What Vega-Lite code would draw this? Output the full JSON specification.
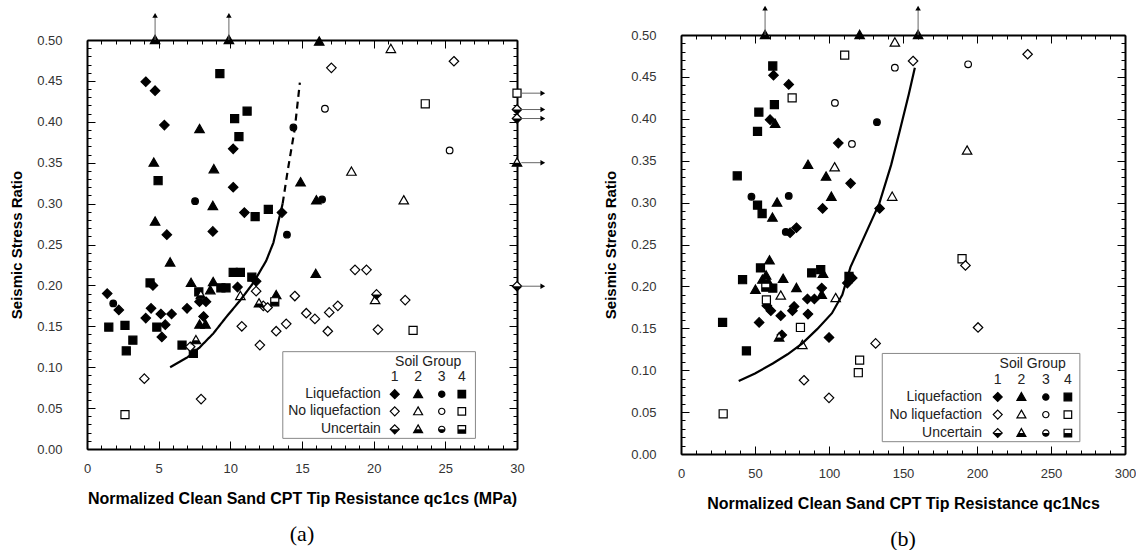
{
"$schema":"https://vega.github.io/schema/vega-lite/v6.json",
"padding":{"left":9,"top":5,"right":0,"bottom":0},
"background":"white",
"config":{"view":{"stroke":null},"font":"Liberation Sans","axis":{"grid":false}},
"datasets":{
"ptsA":[
{"q":4.75,"csr":0.5,"group":"2","outcome":"L"},{"q":9.9,"csr":0.5,"group":"2","outcome":"L"},{"q":16.2,"csr":0.498,"group":"2","outcome":"L"},
{"q":4.1,"csr":0.449,"group":"1","outcome":"L"},{"q":4.75,"csr":0.438,"group":"1","outcome":"L"},{"q":9.27,"csr":0.459,"group":"4","outcome":"L"},
{"q":11.17,"csr":0.413,"group":"4","outcome":"L"},{"q":10.3,"csr":0.404,"group":"4","outcome":"L"},{"q":5.4,"csr":0.396,"group":"1","outcome":"L"},
{"q":7.85,"csr":0.391,"group":"2","outcome":"L"},{"q":10.6,"csr":0.382,"group":"4","outcome":"L"},{"q":14.4,"csr":0.393,"group":"3","outcome":"L"},
{"q":10.2,"csr":0.367,"group":"1","outcome":"L"},{"q":4.66,"csr":0.35,"group":"2","outcome":"L"},{"q":8.85,"csr":0.342,"group":"2","outcome":"L"},
{"q":4.96,"csr":0.328,"group":"4","outcome":"L"},{"q":10.2,"csr":0.32,"group":"1","outcome":"L"},{"q":7.54,"csr":0.303,"group":"3","outcome":"L"},
{"q":8.78,"csr":0.297,"group":"2","outcome":"L"},{"q":10.98,"csr":0.289,"group":"1","outcome":"L"},{"q":11.73,"csr":0.284,"group":"4","outcome":"L"},
{"q":12.65,"csr":0.293,"group":"4","outcome":"L"},{"q":13.6,"csr":0.289,"group":"1","outcome":"L"},{"q":4.75,"csr":0.278,"group":"2","outcome":"L"},
{"q":13.95,"csr":0.262,"group":"3","outcome":"L"},{"q":5.57,"csr":0.262,"group":"1","outcome":"L"},{"q":8.78,"csr":0.266,"group":"1","outcome":"L"},
{"q":5.8,"csr":0.228,"group":"2","outcome":"L"},{"q":14.9,"csr":0.326,"group":"2","outcome":"L"},{"q":16.0,"csr":0.304,"group":"2","outcome":"L"},
{"q":16.4,"csr":0.305,"group":"3","outcome":"L"},{"q":1.41,"csr":0.19,"group":"1","outcome":"L"},{"q":1.83,"csr":0.178,"group":"3","outcome":"L"},
{"q":2.22,"csr":0.17,"group":"1","outcome":"L"},{"q":1.52,"csr":0.149,"group":"4","outcome":"L"},{"q":2.65,"csr":0.151,"group":"4","outcome":"L"},
{"q":3.2,"csr":0.133,"group":"4","outcome":"L"},{"q":2.74,"csr":0.12,"group":"4","outcome":"L"},{"q":4.4,"csr":0.203,"group":"4","outcome":"L"},
{"q":4.6,"csr":0.2,"group":"1","outcome":"L"},{"q":4.1,"csr":0.16,"group":"1","outcome":"L"},{"q":4.47,"csr":0.172,"group":"1","outcome":"L"},
{"q":4.87,"csr":0.149,"group":"4","outcome":"L"},{"q":5.15,"csr":0.165,"group":"1","outcome":"L"},{"q":5.46,"csr":0.152,"group":"1","outcome":"L"},
{"q":5.22,"csr":0.137,"group":"1","outcome":"L"},{"q":5.9,"csr":0.165,"group":"1","outcome":"L"},{"q":6.98,"csr":0.172,"group":"1","outcome":"L"},
{"q":6.63,"csr":0.127,"group":"4","outcome":"L"},{"q":7.42,"csr":0.117,"group":"4","outcome":"L"},{"q":7.26,"csr":0.203,"group":"2","outcome":"L"},
{"q":7.8,"csr":0.192,"group":"4","outcome":"L"},{"q":7.85,"csr":0.18,"group":"1","outcome":"L"},{"q":8.3,"csr":0.18,"group":"1","outcome":"L"},
{"q":8.13,"csr":0.162,"group":"1","outcome":"L"},{"q":7.85,"csr":0.152,"group":"2","outcome":"L"},{"q":8.27,"csr":0.152,"group":"2","outcome":"L"},
{"q":8.8,"csr":0.204,"group":"2","outcome":"L"},{"q":8.6,"csr":0.194,"group":"2","outcome":"L"},{"q":9.34,"csr":0.197,"group":"4","outcome":"L"},
{"q":9.7,"csr":0.197,"group":"4","outcome":"L"},{"q":10.2,"csr":0.216,"group":"4","outcome":"L"},{"q":10.7,"csr":0.216,"group":"4","outcome":"L"},
{"q":10.5,"csr":0.198,"group":"1","outcome":"L"},{"q":11.5,"csr":0.21,"group":"4","outcome":"L"},{"q":11.8,"csr":0.205,"group":"1","outcome":"L"},
{"q":13.2,"csr":0.188,"group":"2","outcome":"L"},{"q":15.96,"csr":0.214,"group":"2","outcome":"L"},
{"q":21.2,"csr":0.489,"group":"2","outcome":"N"},{"q":17.05,"csr":0.466,"group":"1","outcome":"N"},{"q":25.6,"csr":0.474,"group":"1","outcome":"N"},
{"q":16.6,"csr":0.416,"group":"3","outcome":"N"},{"q":23.6,"csr":0.422,"group":"4","outcome":"N"},{"q":25.3,"csr":0.365,"group":"3","outcome":"N"},
{"q":18.45,"csr":0.339,"group":"2","outcome":"N"},{"q":22.1,"csr":0.304,"group":"2","outcome":"N"},{"q":30,"csr":0.435,"group":"4","outcome":"N"},
{"q":4.0,"csr":0.086,"group":"1","outcome":"N"},{"q":2.65,"csr":0.042,"group":"4","outcome":"N"},{"q":7.96,"csr":0.061,"group":"1","outcome":"N"},
{"q":7.2,"csr":0.125,"group":"1","outcome":"N"},{"q":10.7,"csr":0.187,"group":"2","outcome":"N"},{"q":11.8,"csr":0.193,"group":"1","outcome":"N"},
{"q":10.8,"csr":0.15,"group":"1","outcome":"N"},{"q":12.06,"csr":0.127,"group":"1","outcome":"N"},{"q":12.3,"csr":0.175,"group":"1","outcome":"N"},
{"q":12.6,"csr":0.173,"group":"1","outcome":"N"},{"q":13.2,"csr":0.144,"group":"1","outcome":"N"},{"q":13.9,"csr":0.153,"group":"1","outcome":"N"},
{"q":14.5,"csr":0.187,"group":"1","outcome":"N"},{"q":18.7,"csr":0.219,"group":"1","outcome":"N"},{"q":19.5,"csr":0.219,"group":"1","outcome":"N"},
{"q":20.1,"csr":0.182,"group":"2","outcome":"N"},{"q":22.2,"csr":0.182,"group":"1","outcome":"N"},{"q":15.3,"csr":0.166,"group":"1","outcome":"N"},
{"q":15.9,"csr":0.159,"group":"1","outcome":"N"},{"q":16.9,"csr":0.167,"group":"1","outcome":"N"},{"q":17.5,"csr":0.175,"group":"1","outcome":"N"},
{"q":16.8,"csr":0.144,"group":"1","outcome":"N"},{"q":20.3,"csr":0.146,"group":"1","outcome":"N"},{"q":22.75,"csr":0.145,"group":"4","outcome":"N"},
{"q":30,"csr":0.415,"group":"1","outcome":"U"},{"q":30,"csr":0.404,"group":"1","outcome":"U"},{"q":30,"csr":0.35,"group":"2","outcome":"U"},
{"q":30,"csr":0.199,"group":"1","outcome":"U"},{"q":7.6,"csr":0.133,"group":"2","outcome":"U"},{"q":12.0,"csr":0.178,"group":"2","outcome":"U"},
{"q":13.1,"csr":0.18,"group":"4","outcome":"U"},{"q":20.2,"csr":0.189,"group":"1","outcome":"U"},{"q":7.94,"csr":0.188,"group":"2","outcome":"U"}
],
"curveA":[
{"q":5.8,"csr":0.1,"style":"solid"},{"q":7.0,"csr":0.112,"style":"solid"},{"q":7.85,"csr":0.124,"style":"solid"},{"q":8.8,"csr":0.141,"style":"solid"},
{"q":9.7,"csr":0.161,"style":"solid"},{"q":10.7,"csr":0.182,"style":"solid"},{"q":11.6,"csr":0.203,"style":"solid"},{"q":12.5,"csr":0.23,"style":"solid"},
{"q":13.0,"csr":0.252,"style":"solid"},{"q":13.65,"csr":0.3,"style":"solid"},
{"q":13.65,"csr":0.3,"style":"dashed"},{"q":14.0,"csr":0.34,"style":"dashed"},{"q":14.5,"csr":0.392,"style":"dashed"},{"q":14.85,"csr":0.448,"style":"dashed"}
],
"arrowsA":[
{"q":4.75,"csr":0.5,"q2":4.75,"csr2":0.53,"dir":"up"},{"q":9.9,"csr":0.5,"q2":9.9,"csr2":0.53,"dir":"up"},
{"q":30.3,"csr":0.435,"q2":31.8,"csr2":0.435,"dir":"right"},{"q":30.3,"csr":0.415,"q2":31.8,"csr2":0.415,"dir":"right"},
{"q":30.3,"csr":0.404,"q2":31.8,"csr2":0.404,"dir":"right"},{"q":30.3,"csr":0.35,"q2":31.8,"csr2":0.35,"dir":"right"},
{"q":30.3,"csr":0.199,"q2":31.8,"csr2":0.199,"dir":"right"}
],
"legBoxA":[{"q":13.66,"q2":27.1,"csr":0.013,"csr2":0.119}],
"legTextA":[
{"q":23.8,"csr":0.106,"label":"Soil Group","kind":"head"},
{"q":21.47,"csr":0.088,"label":"1","kind":"head"},{"q":23.1,"csr":0.088,"label":"2","kind":"head"},
{"q":24.75,"csr":0.088,"label":"3","kind":"head"},{"q":26.15,"csr":0.088,"label":"4","kind":"head"},
{"q":20.5,"csr":0.067,"label":"Liquefaction","kind":"row"},{"q":20.5,"csr":0.046,"label":"No liquefaction","kind":"row"},
{"q":20.5,"csr":0.024,"label":"Uncertain","kind":"row"}
],
"legSymA":[
{"q":21.47,"csr":0.067,"group":"1","outcome":"L"},{"q":23.1,"csr":0.067,"group":"2","outcome":"L"},{"q":24.75,"csr":0.067,"group":"3","outcome":"L"},{"q":26.15,"csr":0.067,"group":"4","outcome":"L"},
{"q":21.47,"csr":0.046,"group":"1","outcome":"N"},{"q":23.1,"csr":0.046,"group":"2","outcome":"N"},{"q":24.75,"csr":0.046,"group":"3","outcome":"N"},{"q":26.15,"csr":0.046,"group":"4","outcome":"N"},
{"q":21.47,"csr":0.024,"group":"1","outcome":"U"},{"q":23.1,"csr":0.024,"group":"2","outcome":"U"},{"q":24.75,"csr":0.024,"group":"3","outcome":"U"},{"q":26.15,"csr":0.024,"group":"4","outcome":"U"}
],
"ptsB":[
{"q":56.8,"csr":0.5,"group":"2","outcome":"L"},{"q":120.7,"csr":0.5,"group":"2","outcome":"L"},{"q":160.2,"csr":0.5,"group":"2","outcome":"L"},
{"q":62.0,"csr":0.463,"group":"4","outcome":"L"},{"q":62.5,"csr":0.452,"group":"1","outcome":"L"},{"q":72.8,"csr":0.441,"group":"1","outcome":"L"},
{"q":63.1,"csr":0.417,"group":"4","outcome":"L"},{"q":52.6,"csr":0.408,"group":"4","outcome":"L"},{"q":60.2,"csr":0.399,"group":"1","outcome":"L"},
{"q":63.6,"csr":0.394,"group":"2","outcome":"L"},{"q":51.7,"csr":0.385,"group":"4","outcome":"L"},{"q":106.3,"csr":0.371,"group":"1","outcome":"L"},
{"q":132.4,"csr":0.396,"group":"3","outcome":"L"},{"q":85.8,"csr":0.345,"group":"2","outcome":"L"},{"q":98.0,"csr":0.331,"group":"2","outcome":"L"},
{"q":38.0,"csr":0.332,"group":"4","outcome":"L"},{"q":114.6,"csr":0.323,"group":"1","outcome":"L"},{"q":134.2,"csr":0.293,"group":"1","outcome":"L"},
{"q":47.6,"csr":0.307,"group":"3","outcome":"L"},{"q":72.8,"csr":0.308,"group":"3","outcome":"L"},{"q":101.6,"csr":0.307,"group":"2","outcome":"L"},
{"q":51.7,"csr":0.297,"group":"4","outcome":"L"},{"q":64.9,"csr":0.3,"group":"2","outcome":"L"},{"q":54.8,"csr":0.287,"group":"4","outcome":"L"},
{"q":95.7,"csr":0.293,"group":"1","outcome":"L"},{"q":61.8,"csr":0.282,"group":"2","outcome":"L"},{"q":70.8,"csr":0.265,"group":"3","outcome":"L"},
{"q":73.7,"csr":0.264,"group":"1","outcome":"L"},{"q":78.0,"csr":0.27,"group":"1","outcome":"L"},{"q":59.8,"csr":0.231,"group":"2","outcome":"L"},
{"q":53.7,"csr":0.222,"group":"4","outcome":"L"},{"q":88.3,"csr":0.216,"group":"4","outcome":"L"},{"q":94.4,"csr":0.22,"group":"4","outcome":"L"},
{"q":41.6,"csr":0.208,"group":"4","outcome":"L"},{"q":55.0,"csr":0.208,"group":"2","outcome":"L"},{"q":57.5,"csr":0.213,"group":"2","outcome":"L"},
{"q":59.0,"csr":0.205,"group":"2","outcome":"L"},{"q":69.0,"csr":0.209,"group":"2","outcome":"L"},{"q":96.0,"csr":0.215,"group":"2","outcome":"L"},
{"q":50.3,"csr":0.196,"group":"2","outcome":"L"},{"q":62.0,"csr":0.198,"group":"4","outcome":"L"},{"q":78.0,"csr":0.198,"group":"2","outcome":"L"},
{"q":95.1,"csr":0.198,"group":"1","outcome":"L"},{"q":95.1,"csr":0.19,"group":"2","outcome":"L"},{"q":58.0,"csr":0.177,"group":"1","outcome":"L"},
{"q":60.7,"csr":0.171,"group":"1","outcome":"L"},{"q":85.4,"csr":0.185,"group":"1","outcome":"L"},{"q":90.1,"csr":0.185,"group":"1","outcome":"L"},
{"q":76.4,"csr":0.176,"group":"1","outcome":"L"},{"q":75.3,"csr":0.171,"group":"1","outcome":"L"},{"q":67.4,"csr":0.165,"group":"1","outcome":"L"},
{"q":85.8,"csr":0.167,"group":"1","outcome":"L"},{"q":52.8,"csr":0.157,"group":"1","outcome":"L"},{"q":28.1,"csr":0.157,"group":"4","outcome":"L"},
{"q":68.1,"csr":0.142,"group":"1","outcome":"L"},{"q":100.0,"csr":0.139,"group":"1","outcome":"L"},{"q":112.4,"csr":0.204,"group":"1","outcome":"L"},
{"q":115.7,"csr":0.21,"group":"1","outcome":"L"},{"q":113.5,"csr":0.212,"group":"4","outcome":"L"},{"q":44.2,"csr":0.123,"group":"4","outcome":"L"},
{"q":144.5,"csr":0.491,"group":"2","outcome":"N"},{"q":110.6,"csr":0.476,"group":"4","outcome":"N"},{"q":75.1,"csr":0.425,"group":"4","outcome":"N"},
{"q":104.0,"csr":0.419,"group":"3","outcome":"N"},{"q":115.5,"csr":0.37,"group":"3","outcome":"N"},{"q":156.8,"csr":0.469,"group":"1","outcome":"N"},
{"q":144.5,"csr":0.461,"group":"3","outcome":"N"},{"q":194.0,"csr":0.465,"group":"3","outcome":"N"},{"q":234.2,"csr":0.477,"group":"1","outcome":"N"},
{"q":103.8,"csr":0.342,"group":"2","outcome":"N"},{"q":193.3,"csr":0.362,"group":"2","outcome":"N"},{"q":142.7,"csr":0.307,"group":"2","outcome":"N"},
{"q":67.4,"csr":0.189,"group":"2","outcome":"N"},{"q":57.7,"csr":0.184,"group":"4","outcome":"N"},{"q":80.7,"csr":0.151,"group":"4","outcome":"N"},
{"q":82.0,"csr":0.13,"group":"2","outcome":"N"},{"q":104.5,"csr":0.186,"group":"2","outcome":"N"},{"q":83.1,"csr":0.088,"group":"1","outcome":"N"},
{"q":100.0,"csr":0.067,"group":"1","outcome":"N"},{"q":28.5,"csr":0.048,"group":"4","outcome":"N"},{"q":120.7,"csr":0.112,"group":"4","outcome":"N"},
{"q":119.8,"csr":0.097,"group":"4","outcome":"N"},{"q":189.9,"csr":0.233,"group":"4","outcome":"N"},{"q":192.2,"csr":0.225,"group":"1","outcome":"N"},
{"q":200.7,"csr":0.151,"group":"1","outcome":"N"},{"q":131.5,"csr":0.132,"group":"1","outcome":"N"},
{"q":57.3,"csr":0.199,"group":"4","outcome":"U"},{"q":66.3,"csr":0.139,"group":"2","outcome":"U"}
],
"curveB":[
{"q":39,"csr":0.087},{"q":50,"csr":0.096},{"q":62,"csr":0.108},{"q":72,"csr":0.119},{"q":82,"csr":0.132},{"q":92,"csr":0.149},
{"q":102,"csr":0.168},{"q":109,"csr":0.19},{"q":114.5,"csr":0.223},{"q":124,"csr":0.26},{"q":134,"csr":0.299},{"q":142,"csr":0.345},
{"q":148,"csr":0.387},{"q":154,"csr":0.43},{"q":158,"csr":0.461}
],
"arrowsB":[
{"q":56.8,"csr":0.5,"q2":56.8,"csr2":0.532,"dir":"up"},{"q":160.2,"csr":0.5,"q2":160.2,"csr2":0.532,"dir":"up"}
],
"legBoxB":[{"q":136,"q2":269.5,"csr":0.0147,"csr2":0.12}],
"legTextB":[
{"q":237.6,"csr":0.107,"label":"Soil Group","kind":"head"},
{"q":214,"csr":0.088,"label":"1","kind":"head"},{"q":230,"csr":0.088,"label":"2","kind":"head"},
{"q":246.5,"csr":0.088,"label":"3","kind":"head"},{"q":261.4,"csr":0.088,"label":"4","kind":"head"},
{"q":203.4,"csr":0.068,"label":"Liquefaction","kind":"row"},{"q":203.4,"csr":0.047,"label":"No liquefaction","kind":"row"},
{"q":203.4,"csr":0.025,"label":"Uncertain","kind":"row"}
],
"legSymB":[
{"q":214,"csr":0.068,"group":"1","outcome":"L"},{"q":230,"csr":0.068,"group":"2","outcome":"L"},{"q":246.5,"csr":0.068,"group":"3","outcome":"L"},{"q":261.4,"csr":0.068,"group":"4","outcome":"L"},
{"q":214,"csr":0.047,"group":"1","outcome":"N"},{"q":230,"csr":0.047,"group":"2","outcome":"N"},{"q":246.5,"csr":0.047,"group":"3","outcome":"N"},{"q":261.4,"csr":0.047,"group":"4","outcome":"N"},
{"q":214,"csr":0.025,"group":"1","outcome":"U"},{"q":230,"csr":0.025,"group":"2","outcome":"U"},{"q":246.5,"csr":0.025,"group":"3","outcome":"U"},{"q":261.4,"csr":0.025,"group":"4","outcome":"U"}
]
},
"hconcat":[
{
"width":430,"height":409,
"title":{"text":"(a)","orient":"bottom","font":"Liberation Serif","fontSize":22,"fontWeight":"normal","color":"black","offset":18},
"resolve":{"scale":{"shape":"independent","fill":"independent","strokeDash":"independent"},"axis":{"x":"independent","y":"independent"}},
"layer":[
{"data":{"name":"ptsA"},
 "mark":{"type":"point","filled":true,"stroke":"black","strokeWidth":1.2,"size":90,"opacity":1},
 "encoding":{
  "x":{"field":"q","type":"quantitative","scale":{"domain":[0,30],"nice":false,"zero":false},
   "axis":{"orient":"bottom","values":[0,1,2,3,4,5,6,7,8,9,10,11,12,13,14,15,16,17,18,19,20,21,22,23,24,25,26,27,28,29,30],
    "labelExpr":"datum.value % 5 === 0 ? datum.label : ''",
    "tickSize":{"condition":{"test":"datum.value % 5 === 0","value":-8},"value":-4},
    "labelPadding":21,"labelFontSize":13,"labelColor":"#333","labelFlush":false,"labelOverlap":false,
    "domainColor":"black","domainWidth":2,"tickColor":"black","tickWidth":1,
    "title":"Normalized Clean Sand CPT Tip Resistance qc1cs (MPa)","titleFontSize":16,"titleFontWeight":"bold","titleColor":"black","titlePadding":11}},
  "y":{"field":"csr","type":"quantitative","scale":{"domain":[0,0.5],"nice":false},
   "axis":{"orient":"left","values":[0,0.01,0.02,0.03,0.04,0.05,0.06,0.07,0.08,0.09,0.1,0.11,0.12,0.13,0.14,0.15,0.16,0.17,0.18,0.19,0.2,0.21,0.22,0.23,0.24,0.25,0.26,0.27,0.28,0.29,0.3,0.31,0.32,0.33,0.34,0.35,0.36,0.37,0.38,0.39,0.4,0.41,0.42,0.43,0.44,0.45,0.46,0.47,0.48,0.49,0.5],
    "labelExpr":"round(datum.value*100) % 5 === 0 ? format(datum.value, '.2f') : ''",
    "tickSize":{"condition":{"test":"round(datum.value*100) % 5 === 0","value":-8},"value":-4},
    "labelPadding":33,"labelFontSize":13,"labelColor":"#333","labelFlush":false,"labelOverlap":false,
    "domainColor":"black","domainWidth":2,"tickColor":"black","tickWidth":1,
    "title":"Seismic Stress Ratio","titleFontSize":15,"titleFontWeight":"bold","titleColor":"black","titlePadding":12}},
  "shape":{"field":"group","type":"nominal","scale":{"domain":["1","2","3","4"],"range":["M0,-1L1,0L0,1L-1,0Z","M0,-1L1,0.75L-1,0.75Z","M0.7,0A0.7,0.7,0,1,1,-0.7,0A0.7,0.7,0,1,1,0.7,0Z","M-0.85,-0.85L0.85,-0.85L0.85,0.85L-0.85,0.85Z"]},"legend":null},
  "fill":{"field":"outcome","type":"nominal","scale":{"domain":["L","N","U"],"range":["black","white","white"]},"legend":null}
 }},
{"data":{"name":"ptsA"},
 "transform":[{"filter":"datum.outcome === 'U'"}],
 "mark":{"type":"point","filled":true,"fill":"black","strokeWidth":0,"size":90,"opacity":1},
 "encoding":{
  "x":{"field":"q","type":"quantitative","scale":{"domain":[0,30],"nice":false,"zero":false},"axis":null},
  "y":{"field":"csr","type":"quantitative","scale":{"domain":[0,0.5],"nice":false},"axis":null},
  "shape":{"field":"group","type":"nominal","scale":{"domain":["1","2","3","4"],"range":["M-1,0L1,0L0,1Z","M-0.571,0L0.571,0L1,0.75L-1,0.75Z","M-0.7,0A0.7,0.7,0,0,0,0.7,0Z","M-0.85,0L0.85,0L0.85,0.85L-0.85,0.85Z"]},"legend":null}
 }},
{"data":{"name":"curveA"},
 "mark":{"type":"line","color":"black","strokeWidth":2.2},
 "encoding":{
  "x":{"field":"q","type":"quantitative","scale":{"domain":[0,30],"nice":false,"zero":false},
   "axis":{"orient":"top","values":[0,1,2,3,4,5,6,7,8,9,10,11,12,13,14,15,16,17,18,19,20,21,22,23,24,25,26,27,28,29,30],"labels":false,
    "tickSize":{"condition":{"test":"datum.value % 5 === 0","value":-8},"value":-4},
    "domainColor":"black","domainWidth":2,"tickColor":"black","tickWidth":1,"title":null}},
  "y":{"field":"csr","type":"quantitative","scale":{"domain":[0,0.5],"nice":false},
   "axis":{"orient":"right","values":[0,0.01,0.02,0.03,0.04,0.05,0.06,0.07,0.08,0.09,0.1,0.11,0.12,0.13,0.14,0.15,0.16,0.17,0.18,0.19,0.2,0.21,0.22,0.23,0.24,0.25,0.26,0.27,0.28,0.29,0.3,0.31,0.32,0.33,0.34,0.35,0.36,0.37,0.38,0.39,0.4,0.41,0.42,0.43,0.44,0.45,0.46,0.47,0.48,0.49,0.5],"labels":false,
    "tickSize":{"condition":{"test":"round(datum.value*100) % 5 === 0","value":-8},"value":-4},
    "domainColor":"black","domainWidth":2,"tickColor":"black","tickWidth":1,"title":null}},
  "strokeDash":{"field":"style","type":"nominal","scale":{"domain":["solid","dashed"],"range":[[1,0],[7,5]]},"legend":null}
 }},
{"data":{"name":"legBoxA"},
 "mark":{"type":"rect","fill":"white","stroke":"#888","strokeWidth":1},
 "encoding":{
  "x":{"field":"q","type":"quantitative","scale":{"domain":[0,30],"nice":false,"zero":false},"axis":null},
  "x2":{"field":"q2"},
  "y":{"field":"csr","type":"quantitative","scale":{"domain":[0,0.5],"nice":false},"axis":null},
  "y2":{"field":"csr2"}
 }},
{"data":{"name":"legTextA"},
 "transform":[{"filter":"datum.kind === 'head'"}],
 "mark":{"type":"text","fontSize":14,"color":"#222","align":"center","baseline":"middle"},
 "encoding":{
  "x":{"field":"q","type":"quantitative","scale":{"domain":[0,30],"nice":false,"zero":false},"axis":null},
  "y":{"field":"csr","type":"quantitative","scale":{"domain":[0,0.5],"nice":false},"axis":null},
  "text":{"field":"label"}
 }},
{"data":{"name":"legTextA"},
 "transform":[{"filter":"datum.kind === 'row'"}],
 "mark":{"type":"text","fontSize":14,"color":"#222","align":"right","baseline":"middle"},
 "encoding":{
  "x":{"field":"q","type":"quantitative","scale":{"domain":[0,30],"nice":false,"zero":false},"axis":null},
  "y":{"field":"csr","type":"quantitative","scale":{"domain":[0,0.5],"nice":false},"axis":null},
  "text":{"field":"label"}
 }},
{"data":{"name":"legSymA"},
 "mark":{"type":"point","filled":true,"stroke":"black","strokeWidth":1.2,"size":80,"opacity":1},
 "encoding":{
  "x":{"field":"q","type":"quantitative","scale":{"domain":[0,30],"nice":false,"zero":false},"axis":null},
  "y":{"field":"csr","type":"quantitative","scale":{"domain":[0,0.5],"nice":false},"axis":null},
  "shape":{"field":"group","type":"nominal","scale":{"domain":["1","2","3","4"],"range":["M0,-1L1,0L0,1L-1,0Z","M0,-1L1,0.75L-1,0.75Z","M0.7,0A0.7,0.7,0,1,1,-0.7,0A0.7,0.7,0,1,1,0.7,0Z","M-0.85,-0.85L0.85,-0.85L0.85,0.85L-0.85,0.85Z"]},"legend":null},
  "fill":{"field":"outcome","type":"nominal","scale":{"domain":["L","N","U"],"range":["black","white","white"]},"legend":null}
 }},
{"data":{"name":"legSymA"},
 "transform":[{"filter":"datum.outcome === 'U'"}],
 "mark":{"type":"point","filled":true,"fill":"black","strokeWidth":0,"size":80,"opacity":1},
 "encoding":{
  "x":{"field":"q","type":"quantitative","scale":{"domain":[0,30],"nice":false,"zero":false},"axis":null},
  "y":{"field":"csr","type":"quantitative","scale":{"domain":[0,0.5],"nice":false},"axis":null},
  "shape":{"field":"group","type":"nominal","scale":{"domain":["1","2","3","4"],"range":["M-1,0L1,0L0,1Z","M-0.571,0L0.571,0L1,0.75L-1,0.75Z","M-0.7,0A0.7,0.7,0,0,0,0.7,0Z","M-0.85,0L0.85,0L0.85,0.85L-0.85,0.85Z"]},"legend":null}
 }},
{"data":{"name":"arrowsA"},
 "mark":{"type":"rule","color":"#666","strokeWidth":1},
 "encoding":{
  "x":{"field":"q","type":"quantitative","scale":{"domain":[0,30],"nice":false,"zero":false},"axis":null},
  "x2":{"field":"q2"},
  "y":{"field":"csr","type":"quantitative","scale":{"domain":[0,0.5],"nice":false},"axis":null},
  "y2":{"field":"csr2"}
 }},
{"data":{"name":"arrowsA"},
 "transform":[{"filter":"datum.dir === 'up'"}],
 "mark":{"type":"point","shape":"triangle-up","filled":true,"color":"black","size":30,"opacity":1},
 "encoding":{
  "x":{"field":"q2","type":"quantitative","scale":{"domain":[0,30],"nice":false,"zero":false},"axis":null},
  "y":{"field":"csr2","type":"quantitative","scale":{"domain":[0,0.5],"nice":false},"axis":null}
 }},
{"data":{"name":"arrowsA"},
 "transform":[{"filter":"datum.dir === 'right'"}],
 "mark":{"type":"point","shape":"triangle-right","filled":true,"color":"black","size":30,"opacity":1},
 "encoding":{
  "x":{"field":"q2","type":"quantitative","scale":{"domain":[0,30],"nice":false,"zero":false},"axis":null},
  "y":{"field":"csr2","type":"quantitative","scale":{"domain":[0,0.5],"nice":false},"axis":null}
 }}
]
},
{
"width":444,"height":419,
"title":{"text":"(b)","orient":"bottom","font":"Liberation Serif","fontSize":22,"fontWeight":"normal","color":"black","offset":18},
"resolve":{"scale":{"shape":"independent","fill":"independent"},"axis":{"x":"independent","y":"independent"}},
"layer":[
{"data":{"name":"ptsB"},
 "mark":{"type":"point","filled":true,"stroke":"black","strokeWidth":1.2,"size":90,"opacity":1},
 "encoding":{
  "x":{"field":"q","type":"quantitative","scale":{"domain":[0,300],"nice":false,"zero":false},
   "axis":{"orient":"bottom","values":[0,10,20,30,40,50,60,70,80,90,100,110,120,130,140,150,160,170,180,190,200,210,220,230,240,250,260,270,280,290,300],
    "labelExpr":"datum.value % 50 === 0 ? datum.label : ''",
    "tickSize":{"condition":{"test":"datum.value % 50 === 0","value":-8},"value":-4},
    "labelPadding":21,"labelFontSize":13,"labelColor":"#333","labelFlush":false,"labelOverlap":false,
    "domainColor":"black","domainWidth":2,"tickColor":"black","tickWidth":1,
    "title":"Normalized Clean Sand CPT Tip Resistance qc1Ncs","titleFontSize":16,"titleFontWeight":"bold","titleColor":"black","titlePadding":11}},
  "y":{"field":"csr","type":"quantitative","scale":{"domain":[0,0.5],"nice":false},
   "axis":{"orient":"left","values":[0,0.01,0.02,0.03,0.04,0.05,0.06,0.07,0.08,0.09,0.1,0.11,0.12,0.13,0.14,0.15,0.16,0.17,0.18,0.19,0.2,0.21,0.22,0.23,0.24,0.25,0.26,0.27,0.28,0.29,0.3,0.31,0.32,0.33,0.34,0.35,0.36,0.37,0.38,0.39,0.4,0.41,0.42,0.43,0.44,0.45,0.46,0.47,0.48,0.49,0.5],
    "labelExpr":"round(datum.value*100) % 5 === 0 ? format(datum.value, '.2f') : ''",
    "tickSize":{"condition":{"test":"round(datum.value*100) % 5 === 0","value":-8},"value":-4},
    "labelPadding":33,"labelFontSize":13,"labelColor":"#333","labelFlush":false,"labelOverlap":false,
    "domainColor":"black","domainWidth":2,"tickColor":"black","tickWidth":1,
    "title":"Seismic Stress Ratio","titleFontSize":15,"titleFontWeight":"bold","titleColor":"black","titlePadding":12}},
  "shape":{"field":"group","type":"nominal","scale":{"domain":["1","2","3","4"],"range":["M0,-1L1,0L0,1L-1,0Z","M0,-1L1,0.75L-1,0.75Z","M0.7,0A0.7,0.7,0,1,1,-0.7,0A0.7,0.7,0,1,1,0.7,0Z","M-0.85,-0.85L0.85,-0.85L0.85,0.85L-0.85,0.85Z"]},"legend":null},
  "fill":{"field":"outcome","type":"nominal","scale":{"domain":["L","N","U"],"range":["black","white","white"]},"legend":null}
 }},
{"data":{"name":"ptsB"},
 "transform":[{"filter":"datum.outcome === 'U'"}],
 "mark":{"type":"point","filled":true,"fill":"black","strokeWidth":0,"size":90,"opacity":1},
 "encoding":{
  "x":{"field":"q","type":"quantitative","scale":{"domain":[0,300],"nice":false,"zero":false},"axis":null},
  "y":{"field":"csr","type":"quantitative","scale":{"domain":[0,0.5],"nice":false},"axis":null},
  "shape":{"field":"group","type":"nominal","scale":{"domain":["1","2","3","4"],"range":["M-1,0L1,0L0,1Z","M-0.571,0L0.571,0L1,0.75L-1,0.75Z","M-0.7,0A0.7,0.7,0,0,0,0.7,0Z","M-0.85,0L0.85,0L0.85,0.85L-0.85,0.85Z"]},"legend":null}
 }},
{"data":{"name":"curveB"},
 "mark":{"type":"line","color":"black","strokeWidth":2.2},
 "encoding":{
  "x":{"field":"q","type":"quantitative","scale":{"domain":[0,300],"nice":false,"zero":false},
   "axis":{"orient":"top","values":[0,10,20,30,40,50,60,70,80,90,100,110,120,130,140,150,160,170,180,190,200,210,220,230,240,250,260,270,280,290,300],"labels":false,
    "tickSize":{"condition":{"test":"datum.value % 50 === 0","value":-8},"value":-4},
    "domainColor":"black","domainWidth":2,"tickColor":"black","tickWidth":1,"title":null}},
  "y":{"field":"csr","type":"quantitative","scale":{"domain":[0,0.5],"nice":false},
   "axis":{"orient":"right","values":[0,0.01,0.02,0.03,0.04,0.05,0.06,0.07,0.08,0.09,0.1,0.11,0.12,0.13,0.14,0.15,0.16,0.17,0.18,0.19,0.2,0.21,0.22,0.23,0.24,0.25,0.26,0.27,0.28,0.29,0.3,0.31,0.32,0.33,0.34,0.35,0.36,0.37,0.38,0.39,0.4,0.41,0.42,0.43,0.44,0.45,0.46,0.47,0.48,0.49,0.5],"labels":false,
    "tickSize":{"condition":{"test":"round(datum.value*100) % 5 === 0","value":-8},"value":-4},
    "domainColor":"black","domainWidth":2,"tickColor":"black","tickWidth":1,"title":null}}
 }},
{"data":{"name":"legBoxB"},
 "mark":{"type":"rect","fill":"white","stroke":"#888","strokeWidth":1},
 "encoding":{
  "x":{"field":"q","type":"quantitative","scale":{"domain":[0,300],"nice":false,"zero":false},"axis":null},
  "x2":{"field":"q2"},
  "y":{"field":"csr","type":"quantitative","scale":{"domain":[0,0.5],"nice":false},"axis":null},
  "y2":{"field":"csr2"}
 }},
{"data":{"name":"legTextB"},
 "transform":[{"filter":"datum.kind === 'head'"}],
 "mark":{"type":"text","fontSize":14,"color":"#222","align":"center","baseline":"middle"},
 "encoding":{
  "x":{"field":"q","type":"quantitative","scale":{"domain":[0,300],"nice":false,"zero":false},"axis":null},
  "y":{"field":"csr","type":"quantitative","scale":{"domain":[0,0.5],"nice":false},"axis":null},
  "text":{"field":"label"}
 }},
{"data":{"name":"legTextB"},
 "transform":[{"filter":"datum.kind === 'row'"}],
 "mark":{"type":"text","fontSize":14,"color":"#222","align":"right","baseline":"middle"},
 "encoding":{
  "x":{"field":"q","type":"quantitative","scale":{"domain":[0,300],"nice":false,"zero":false},"axis":null},
  "y":{"field":"csr","type":"quantitative","scale":{"domain":[0,0.5],"nice":false},"axis":null},
  "text":{"field":"label"}
 }},
{"data":{"name":"legSymB"},
 "mark":{"type":"point","filled":true,"stroke":"black","strokeWidth":1.2,"size":80,"opacity":1},
 "encoding":{
  "x":{"field":"q","type":"quantitative","scale":{"domain":[0,300],"nice":false,"zero":false},"axis":null},
  "y":{"field":"csr","type":"quantitative","scale":{"domain":[0,0.5],"nice":false},"axis":null},
  "shape":{"field":"group","type":"nominal","scale":{"domain":["1","2","3","4"],"range":["M0,-1L1,0L0,1L-1,0Z","M0,-1L1,0.75L-1,0.75Z","M0.7,0A0.7,0.7,0,1,1,-0.7,0A0.7,0.7,0,1,1,0.7,0Z","M-0.85,-0.85L0.85,-0.85L0.85,0.85L-0.85,0.85Z"]},"legend":null},
  "fill":{"field":"outcome","type":"nominal","scale":{"domain":["L","N","U"],"range":["black","white","white"]},"legend":null}
 }},
{"data":{"name":"legSymB"},
 "transform":[{"filter":"datum.outcome === 'U'"}],
 "mark":{"type":"point","filled":true,"fill":"black","strokeWidth":0,"size":80,"opacity":1},
 "encoding":{
  "x":{"field":"q","type":"quantitative","scale":{"domain":[0,300],"nice":false,"zero":false},"axis":null},
  "y":{"field":"csr","type":"quantitative","scale":{"domain":[0,0.5],"nice":false},"axis":null},
  "shape":{"field":"group","type":"nominal","scale":{"domain":["1","2","3","4"],"range":["M-1,0L1,0L0,1Z","M-0.571,0L0.571,0L1,0.75L-1,0.75Z","M-0.7,0A0.7,0.7,0,0,0,0.7,0Z","M-0.85,0L0.85,0L0.85,0.85L-0.85,0.85Z"]},"legend":null}
 }},
{"data":{"name":"arrowsB"},
 "mark":{"type":"rule","color":"#666","strokeWidth":1},
 "encoding":{
  "x":{"field":"q","type":"quantitative","scale":{"domain":[0,300],"nice":false,"zero":false},"axis":null},
  "x2":{"field":"q2"},
  "y":{"field":"csr","type":"quantitative","scale":{"domain":[0,0.5],"nice":false},"axis":null},
  "y2":{"field":"csr2"}
 }},
{"data":{"name":"arrowsB"},
 "mark":{"type":"point","shape":"triangle-up","filled":true,"color":"black","size":30,"opacity":1},
 "encoding":{
  "x":{"field":"q2","type":"quantitative","scale":{"domain":[0,300],"nice":false,"zero":false},"axis":null},
  "y":{"field":"csr2","type":"quantitative","scale":{"domain":[0,0.5],"nice":false},"axis":null}
 }}
]
}
],
"spacing":164,
"bounds":"flush",
"center":true
}
